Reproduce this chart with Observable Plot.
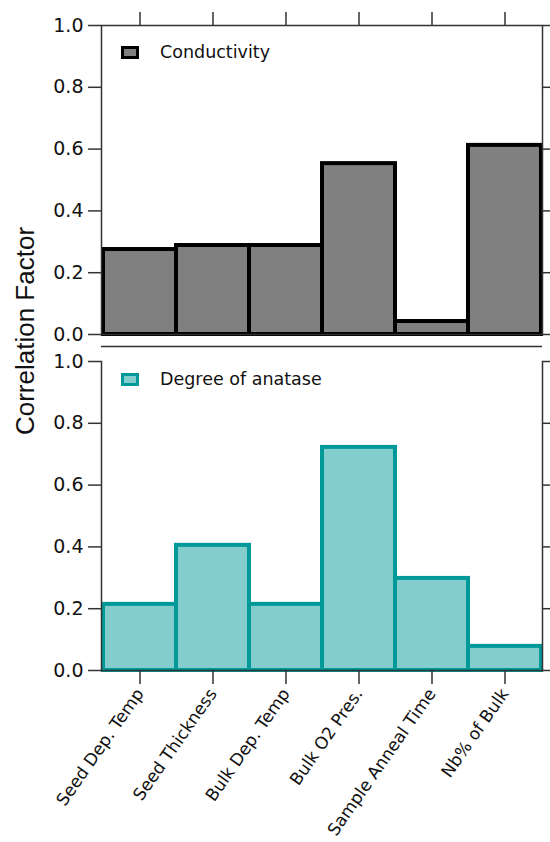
<!DOCTYPE html>
<html>
<head>
<meta charset="utf-8">
<script src="https://cdn.jsdelivr.net/npm/d3@7"></script>
<script src="https://cdn.jsdelivr.net/npm/@observablehq/plot@0.6"></script>
<style>
  html, body { margin: 0; padding: 0; background: #fff; }
  #wrap { position: relative; width: 550px; height: 842px; overflow: hidden; font-family: "DejaVu Sans", sans-serif; }
  .panel { position: absolute; left: 0; }
  .legend { position: absolute; display: flex; align-items: center; font-size: 17.5px; color: #111; }
  .sw { width: 12px; height: 7px; border: 3px solid; margin-right: 21px; }
  #ytitle { position: absolute; left: 25px; top: 331px; transform: translate(-50%, -50%) rotate(-90deg); font-family: "Liberation Sans", sans-serif; font-size: 26px; white-space: nowrap; color: #111; }
</style>
</head>
<body>
<div id="wrap"></div>
<script>
const categories = ["Seed Dep. Temp", "Seed Thickness", "Bulk Dep. Temp", "Bulk O2 Pres.", "Sample Anneal Time", "Nb% of Bulk"];
const conductivity = [0.275, 0.288, 0.288, 0.553, 0.042, 0.612];
const anatase = [0.214, 0.405, 0.214, 0.722, 0.298, 0.078];
const yTicks = [0, 0.2, 0.4, 0.6, 0.8, 1.0];
const seriesNames = ["Conductivity", "Degree of anatase"];

const topData = categories.map((c, i) => ({cat: c, val: conductivity[i]}));
const botData = categories.map((c, i) => ({cat: c, val: anatase[i]}));

const axisColor = "#333";
const fmt = d3.format(".1f");

const topPlot = Plot.plot({
  width: 550, height: 350,
  marginLeft: 101, marginRight: 8, marginTop: 25, marginBottom: 16,
  style: {fontFamily: "DejaVu Sans", fontSize: "18px", color: "#111", background: "transparent", overflow: "visible"},
  x: {type: "band", domain: categories, padding: 0, axis: null},
  y: {domain: [0, 1], axis: null},
  marks: [
    Plot.barY(topData, {x: "cat", y: "val", fill: "#808080", stroke: "#000", strokeWidth: 4}),
    Plot.frame({stroke: axisColor, strokeWidth: 1.5}),
    Plot.axisY({anchor: "left", ticks: yTicks, tickSize: 13, tickPadding: 5, tickFormat: fmt, stroke: axisColor, strokeWidth: 1.5, fontSize: 19, fill: "#111", label: null}),
    Plot.axisY({anchor: "right", ticks: yTicks, tickSize: 8, tickFormat: () => "", stroke: axisColor, strokeWidth: 1.5, label: null}),
    Plot.axisX({anchor: "top", tickSize: 14, tickFormat: () => "", stroke: axisColor, strokeWidth: 1.5, label: null}),
    Plot.ruleY([0], {dy: 12, stroke: axisColor, strokeWidth: 1.5})
  ]
});

const botPlot = Plot.plot({
  width: 550, height: 492,
  marginLeft: 101, marginRight: 8, marginTop: 11, marginBottom: 172,
  style: {fontFamily: "DejaVu Sans", fontSize: "17px", color: "#111", background: "transparent", overflow: "visible"},
  x: {type: "band", domain: categories, padding: 0, axis: null},
  y: {domain: [0, 1], axis: null},
  marks: [
    Plot.barY(botData, {x: "cat", y: "val", fill: "#84cdcd", stroke: "#009999", strokeWidth: 4}),
    Plot.frame({anchor: "left", stroke: axisColor, strokeWidth: 1.5}),
    Plot.frame({anchor: "right", stroke: axisColor, strokeWidth: 1.5}),
    Plot.frame({anchor: "bottom", stroke: axisColor, strokeWidth: 1.5}),
    Plot.axisY({anchor: "left", ticks: yTicks, tickSize: 13, tickPadding: 5, tickFormat: fmt, stroke: axisColor, strokeWidth: 1.5, fontSize: 19, fill: "#111", label: null}),
    Plot.axisY({anchor: "right", ticks: yTicks, tickSize: 8, tickFormat: () => "", stroke: axisColor, strokeWidth: 1.5, label: null}),
    Plot.axisX({anchor: "bottom", tickSize: 14, tickPadding: 6, tickRotate: -55, stroke: axisColor, strokeWidth: 1.5, fontSize: 17, fill: "#111", label: null})
  ]
});

const wrap = document.getElementById("wrap");
const p1 = document.createElement("div"); p1.className = "panel"; p1.style.top = "0px"; p1.appendChild(topPlot);
const p2 = document.createElement("div"); p2.className = "panel"; p2.style.top = "350px"; p2.appendChild(botPlot);
wrap.appendChild(p1); wrap.appendChild(p2);

function legend(top, name, fill, stroke) {
  const d = document.createElement("div");
  d.className = "legend";
  d.style.left = "121px"; d.style.top = top + "px";
  const s = document.createElement("div"); s.className = "sw"; s.style.background = fill; s.style.borderColor = stroke;
  const t = document.createElement("span"); t.textContent = name;
  d.appendChild(s); d.appendChild(t);
  wrap.appendChild(d);
}
legend(42, seriesNames[0], "#808080", "#000");
legend(369, seriesNames[1], "#84cdcd", "#009999");

const yt = document.createElement("div"); yt.id = "ytitle"; yt.textContent = "Correlation Factor";
wrap.appendChild(yt);
</script>
</body>
</html>
